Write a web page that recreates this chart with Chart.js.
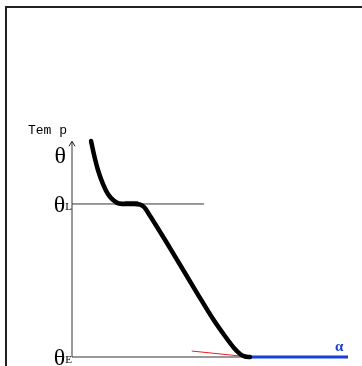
<!DOCTYPE html>
<html>
<head>
<meta charset="utf-8">
<script src="https://cdn.jsdelivr.net/npm/chart.js@4"></script>
<style>
  html, body { margin: 0; padding: 0; background: #fff; }
</style>
</head>
<body>
<canvas id="chart" width="362" height="366"></canvas>
<script>
// cooling curve: x = time, y = temperature (theta_E = 0, theta_L = 100)
const timeVals = [6.9, 8.0, 9.4, 11.2, 13.0, 14.9, 17.0, 19.6, 22.5, 24.6, 26.1, 28.3, 35.5, 45.3, 51.1, 55.4, 58.7, 60.9, 62.7, 64.5]
const tempVals = [141.2, 132.0, 122.2, 113.1, 106.5, 102.6, 100.3, 100, 100, 99.7, 98.0, 92.2, 71.2, 41.8, 24.8, 13.7, 5.9, 2.0, 0.3, 0]

const thetaL = 100
const thetaE = 0
const thetaTop = 132
const axisTop = 141
const plateau = [19.0, 24.0]
const liquidusEnd = 47.8
const solidEnd = [62.5, 100]
const tangentX = [43.4, 60.9]
const tangentY = [3.9, 0.65]

const pts = (xs, ys) => xs.map((x, i) => ({x: x, y: ys[i]}))

// frame round the picture (left and top edges only)
const frame = {
  id: 'frame',
  beforeDraw(chart) {
    const ctx = chart.ctx
    ctx.save()
    ctx.strokeStyle = '#222'
    ctx.lineWidth = 2
    ctx.beginPath()
    ctx.moveTo(6, chart.height)
    ctx.lineTo(6, 7)
    ctx.lineTo(chart.width, 7)
    ctx.stroke()
    ctx.restore()
  }
}

const labels = {
  id: 'labels',
  afterDraw(chart) {
    const ctx = chart.ctx
    const xs = chart.scales.x, ys = chart.scales.y
    const x0 = xs.getPixelForValue(0)
    ctx.save()
    // arrow head on temperature axis
    const top = ys.getPixelForValue(axisTop)
    ctx.strokeStyle = '#222'
    ctx.lineWidth = 1
    ctx.beginPath()
    ctx.moveTo(x0 - 3, top + 5)
    ctx.lineTo(x0, top)
    ctx.lineTo(x0 + 3, top + 5)
    ctx.stroke()

    ctx.fillStyle = '#000'
    ctx.textBaseline = 'alphabetic'
    ctx.font = '13px "Liberation Mono", monospace'
    ctx.textAlign = 'right'
    ctx.fillText('Tem p', x0 - 5, top - 7)

    ctx.font = '24px "Liberation Serif", serif'
    ctx.fillText('θ', x0 - 6, ys.getPixelForValue(thetaTop) + 8)

    const sub = (v, s) => {
      const py = ys.getPixelForValue(v)
      ctx.font = '11px "Liberation Serif", serif'
      ctx.textAlign = 'right'
      ctx.fillText(s, x0, py + 6)
      const w = ctx.measureText(s).width
      ctx.font = '24px "Liberation Serif", serif'
      ctx.fillText('θ', x0 - w, py + 8)
    }
    sub(thetaL, 'L')
    sub(thetaE, 'E')

    ctx.fillStyle = '#1a3fd8'
    ctx.font = 'bold 15px "Liberation Serif", serif'
    ctx.textAlign = 'center'
    ctx.fillText('α', xs.getPixelForValue(96.8), ys.getPixelForValue(thetaE) - 6)
    ctx.restore()
  }
}

new Chart(document.getElementById('chart'), {
  type: 'scatter',
  data: {
    datasets: [
      {
        data: pts(timeVals, tempVals),
        showLine: true, borderColor: '#000', borderWidth: 4.5, pointRadius: 0,
        cubicInterpolationMode: 'monotone', borderCapStyle: 'round'
      },
      {
        data: pts(plateau, [thetaL + 1, thetaL + 1]),
        showLine: true, borderColor: '#2a4fe0', borderWidth: 3, pointRadius: 0
      },
      {
        data: pts(solidEnd, [thetaE, thetaE]),
        showLine: true, borderColor: '#1a3fd8', borderWidth: 3, pointRadius: 0
      },
      {
        data: pts(tangentX, tangentY),
        showLine: true, borderColor: '#e82020', borderWidth: 1, pointRadius: 0
      },
      {
        data: pts([0, liquidusEnd], [thetaL, thetaL]),
        showLine: true, borderColor: '#333', borderWidth: 1, pointRadius: 0
      },
      {
        data: pts([0, 0], [thetaE, axisTop]),
        showLine: true, borderColor: '#333', borderWidth: 1, pointRadius: 0
      },
      {
        data: pts([0, solidEnd[0]], [thetaE, thetaE]),
        showLine: true, borderColor: '#333', borderWidth: 1, pointRadius: 0
      }
    ]
  },
  options: {
    responsive: false,
    animation: false,
    layout: { padding: 0 },
    plugins: { legend: { display: false }, tooltip: { enabled: false } },
    scales: {
      x: { type: 'linear', display: false, min: -26.09, max: 105.07 },
      y: { type: 'linear', display: false, min: -5.88, max: 233.3 }
    }
  },
  plugins: [frame, labels]
})
</script>
</body>
</html>
